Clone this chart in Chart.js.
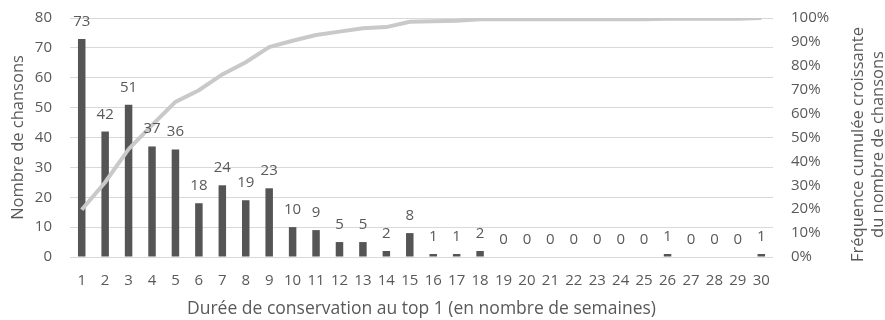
<!DOCTYPE html>
<html>
<head>
<meta charset="utf-8">
<script src="https://cdn.jsdelivr.net/npm/chart.js@4"></script>
<style>
html,body{margin:0;padding:0;background:#fff;}
#wrap{width:885px;height:320px;position:relative;}
</style>
</head>
<body>
<div id="wrap"><canvas id="c" width="885" height="320"></canvas></div>
<script>
const categories = ['1','2','3','4','5','6','7','8','9','10','11','12','13','14','15','16','17','18','19','20','21','22','23','24','25','26','27','28','29','30'];
const songCounts = [73,42,51,37,36,18,24,19,23,10,9,5,5,2,8,1,1,2,0,0,0,0,0,0,0,1,0,0,0,1];
const cumulativePct = [19.8,31.3,45.1,55.2,64.9,69.8,76.4,81.5,87.8,90.5,92.9,94.3,95.7,96.2,98.4,98.6,98.9,99.5,99.5,99.5,99.5,99.5,99.5,99.5,99.5,99.7,99.7,99.7,99.7,100];
const leftTitle = 'Nombre de chansons';
const rightTitleLines = ['Fréquence cumulée croissante','du nombre de chansons'];
const xTitle = 'Durée de conservation au top 1 (en nombre de semaines)';

const FONT = "'Open Sans', sans-serif";
const TXT = '#595959';

const labelPlugin = {
  id: 'barLabels',
  afterDatasetsDraw(chart) {
    const ctx = chart.ctx;
    const meta = chart.getDatasetMeta(1);
    ctx.save();
    ctx.font = '15px ' + FONT;
    ctx.fillStyle = TXT;
    ctx.textAlign = 'center';
    ctx.textBaseline = 'alphabetic';
    meta.data.forEach((el, i) => {
      ctx.fillText(String(songCounts[i]), el.x, el.y - 13);
    });
    ctx.restore();
  }
};

const rightTitlePlugin = {
  id: 'rightTitle',
  afterDraw(chart) {
    const ctx = chart.ctx;
    const area = chart.chartArea;
    const cy = (area.top + area.bottom) / 2 + 7;
    ctx.save();
    ctx.font = '16.5px ' + FONT;
    ctx.fillStyle = TXT;
    ctx.textAlign = 'center';
    ctx.textBaseline = 'middle';
    ctx.translate(858, cy);
    ctx.rotate(-Math.PI / 2);
    ctx.fillText(rightTitleLines[0], 0, 0);
    ctx.fillText(rightTitleLines[1], 0, 20);
    ctx.restore();
  }
};

function fixV(width) {
  return function (s) { s.width = width; s.paddingTop = 0; s.paddingBottom = 0; };
}

new Chart(document.getElementById('c'), {
  data: {
    labels: categories,
    datasets: [
      {
        type: 'line',
        data: cumulativePct,
        yAxisID: 'yR',
        borderColor: '#c9c9c9',
        borderWidth: 4,
        pointRadius: 0,
        tension: 0,
        order: 0
      },
      {
        type: 'bar',
        data: songCounts,
        yAxisID: 'y',
        backgroundColor: '#555555',
        barPercentage: 0.32,
        categoryPercentage: 1,
        order: 1
      }
    ]
  },
  options: {
    responsive: false,
    animation: false,
    layout: { padding: { top: 18, right: 0, bottom: 0, left: 0 } },
    plugins: { legend: { display: false }, tooltip: { enabled: false } },
    scales: {
      x: {
        offset: true,
        grid: { display: false, drawTicks: false },
        border: { display: false },
        ticks: { color: TXT, font: { family: FONT, size: 15 }, padding: 15, maxRotation: 0, autoSkip: false },
        title: { display: true, text: xTitle, color: TXT, font: { family: FONT, size: 17.5 }, padding: { top: 0, bottom: 0 } },
        afterFit(s) { s.height = 63; s.paddingLeft = 0; s.paddingRight = 0; }
      },
      y: {
        position: 'left',
        min: 0, max: 80,
        ticks: { stepSize: 10, color: TXT, font: { family: FONT, size: 15 }, padding: 18 },
        grid: { color: '#d9d9d9', lineWidth: 1, drawTicks: false },
        border: { display: false },
        title: { display: true, text: leftTitle, color: TXT, font: { family: FONT, size: 16.5 }, padding: { top: 8, bottom: 0 } },
        afterFit: fixV(70)
      },
      yR: {
        position: 'right',
        min: 0, max: 100,
        ticks: { stepSize: 10, color: TXT, font: { family: FONT, size: 15 }, padding: 18, callback: v => v + '%' },
        grid: { display: false, drawTicks: false },
        border: { display: false },
        afterFit: fixV(112)
      }
    }
  },
  plugins: [labelPlugin, rightTitlePlugin]
});
</script>
</body>
</html>
